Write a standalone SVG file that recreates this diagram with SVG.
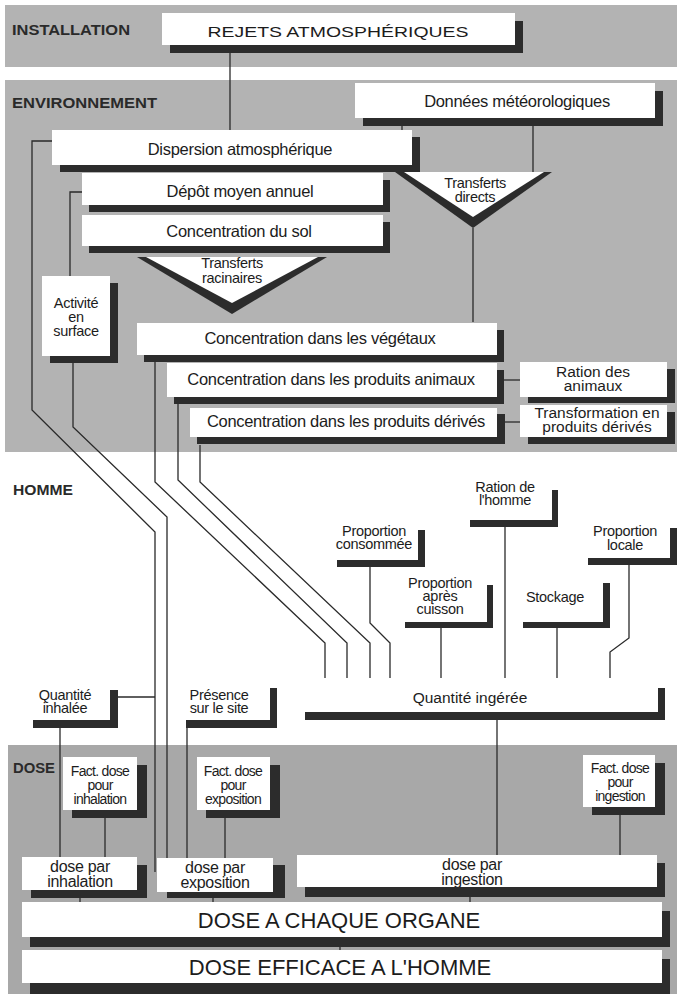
<svg xmlns="http://www.w3.org/2000/svg" width="677" height="994" viewBox="0 0 677 994">
<style>
.band{fill:#b3b3b3}
.bandd{fill:#a8a8a8}
.box{fill:#ffffff}
.sh{fill:#2c2c2c}
.ln{stroke:#2a2a2a;stroke-width:1.3;fill:none}
.t{font-family:"Liberation Sans",Arial,sans-serif;fill:#1c1c1c;text-anchor:middle;font-size:15.5px}
.s{font-size:14.5px;letter-spacing:-0.3px}
.f{font-size:14px;letter-spacing:-0.7px}
.d{font-size:16.5px;letter-spacing:-0.3px}
.dp{font-size:16px;letter-spacing:-0.3px}
.big{font-size:22px}
.sec{font-family:"Liberation Sans",Arial,sans-serif;font-weight:bold;fill:#2a2a2a;font-size:14.5px}
</style>
<rect x="0" y="0" width="677" height="994" fill="#ffffff"/>
<g id="bands">
<rect class="band" x="5" y="5" width="672" height="62"/>
<rect class="band" x="5" y="80" width="672" height="372"/>
<rect class="bandd" x="8" y="745" width="669" height="249"/>
<text class="sec" x="12" y="35" textLength="118" lengthAdjust="spacingAndGlyphs">INSTALLATION</text>
<text class="sec" x="12" y="108" textLength="145" lengthAdjust="spacingAndGlyphs">ENVIRONNEMENT</text>
<text class="sec" x="13" y="495" textLength="60" lengthAdjust="spacingAndGlyphs">HOMME</text>
<text class="sec" x="13" y="773" textLength="42" lengthAdjust="spacingAndGlyphs">DOSE</text>
</g>
<g id="connectors">
<path class="ln" d="M230 53V130"/>
<path class="ln" d="M402 126V130"/>
<path class="ln" d="M533 126V172"/>
<path class="ln" d="M473 228V322"/>
<path class="ln" d="M52 141H32V410L155 532V872"/>
<path class="ln" d="M82 192H70V276"/>
<path class="ln" d="M73 363V427L167 517V858"/>
<path class="ln" d="M155 362V482L325 643V678"/>
<path class="ln" d="M178 404V480L347 643V678"/>
<path class="ln" d="M200 445V482L370 643V678"/>
<path class="ln" d="M370 567V623L390 643V678"/>
<path class="ln" d="M441 628V678"/>
<path class="ln" d="M505 527V678"/>
<path class="ln" d="M557 628V678"/>
<path class="ln" d="M629 565V638L610 652V678"/>
<path class="ln" d="M504 380H520"/>
<path class="ln" d="M505 422H520"/>
<path class="ln" d="M118 697H155"/>
<path class="ln" d="M60 728V857"/>
<path class="ln" d="M187 728V858"/>
<path class="ln" d="M497 720V855"/>
<path class="ln" d="M105 818V857"/>
<path class="ln" d="M225 818V858"/>
<path class="ln" d="M620 815V855"/>
<path class="ln" d="M80 898V902M213 898V902M470 897V902M340 947V950"/>
</g>
<g id="rejets">
<rect class="sh" x="170" y="21" width="353" height="32"/>
<rect class="box" x="162" y="13" width="353" height="32"/>
<text class="t" x="338" y="37" font-size="21" textLength="261" lengthAdjust="spacingAndGlyphs">REJETS ATMOSPHÉRIQUES</text>
</g>
<g id="donnees">
<rect class="sh" x="363" y="91" width="300" height="35"/>
<rect class="box" x="355" y="83" width="300" height="35"/>
<text class="t d" x="517" y="107">Données météorologiques</text>
</g>
<g id="dispersion">
<rect class="sh" x="60" y="137" width="360" height="35"/>
<rect class="box" x="52" y="130" width="360" height="35"/>
<text class="t d" x="240" y="155">Dispersion atmosphérique</text>
</g>
<g id="depot">
<rect class="sh" x="89" y="180" width="301" height="32"/>
<rect class="box" x="82" y="173" width="301" height="32"/>
<text class="t d" x="240" y="197">Dépôt moyen annuel</text>
</g>
<g id="sol">
<rect class="sh" x="89" y="222" width="301" height="31"/>
<rect class="box" x="82" y="215" width="301" height="31"/>
<text class="t d" x="239" y="237">Concentration du sol</text>
</g>
<g id="transferts-directs">
<polygon class="sh" points="395,172 552,172 473,228"/>
<polygon class="box" points="404,172 544,172 473,217"/>
<text class="t s" x="475" y="188">Transferts</text>
<text class="t s" x="475" y="202">directs</text>
</g>
<g id="transferts-racinaires">
<polygon class="sh" points="137,257 327,257 232,314"/>
<polygon class="box" points="146,257 318,257 232,303"/>
<text class="t s" x="232" y="268">Transferts</text>
<text class="t s" x="232" y="283">racinaires</text>
</g>
<g id="activite">
<rect class="sh" x="50" y="283" width="68" height="80"/>
<rect class="box" x="42" y="276" width="68" height="80"/>
<text class="t s" x="76" y="308">Activité</text>
<text class="t s" x="76" y="322">en</text>
<text class="t s" x="76" y="336">surface</text>
</g>
<g id="vegetaux">
<rect class="sh" x="144" y="330" width="360" height="32"/>
<rect class="box" x="137" y="323" width="360" height="32"/>
<text class="t d" x="320" y="344">Concentration dans les végétaux</text>
</g>
<g id="animaux">
<rect class="sh" x="174" y="370" width="330" height="34"/>
<rect class="box" x="167" y="363" width="330" height="34"/>
<text class="t d" x="331" y="385">Concentration dans les produits animaux</text>
</g>
<g id="derives">
<rect class="sh" x="197" y="414" width="308" height="30"/>
<rect class="box" x="190" y="408" width="307" height="29"/>
<text class="t d" x="346" y="427">Concentration dans les produits dérivés</text>
</g>
<g id="ration-animaux">
<rect class="sh" x="528" y="369" width="147" height="34"/>
<rect class="box" x="520" y="362" width="147" height="35"/>
<text class="t" x="593" y="377">Ration des</text>
<text class="t" x="593" y="391">animaux</text>
</g>
<g id="transformation">
<rect class="sh" x="528" y="412" width="147" height="32"/>
<rect class="box" x="520" y="405" width="147" height="32"/>
<text class="t" x="597" y="418">Transformation en</text>
<text class="t" x="597" y="432">produits dérivés</text>
</g>
<g id="ration-homme">
<rect class="sh" x="470" y="490" width="88" height="37"/>
<rect class="box" x="463" y="482" width="89" height="38"/>
<text class="t s" x="505" y="492">Ration de</text>
<text class="t s" x="505" y="505">l'homme</text>
</g>
<g id="proportion-consommee">
<rect class="sh" x="337" y="530" width="88" height="37"/>
<rect class="box" x="330" y="522" width="88" height="38"/>
<text class="t s" x="374" y="536">Proportion</text>
<text class="t s" x="374" y="549">consommée</text>
</g>
<g id="proportion-cuisson">
<rect class="sh" x="405" y="585" width="88" height="43"/>
<rect class="box" x="398" y="577" width="89" height="45"/>
<text class="t s" x="440" y="588">Proportion</text>
<text class="t s" x="440" y="601">après</text>
<text class="t s" x="440" y="614">cuisson</text>
</g>
<g id="stockage">
<rect class="sh" x="523" y="583" width="87" height="45"/>
<rect class="box" x="516" y="575" width="87" height="47"/>
<text class="t s" x="555" y="602">Stockage</text>
</g>
<g id="proportion-locale">
<rect class="sh" x="588" y="528" width="89" height="37"/>
<rect class="box" x="581" y="520" width="89" height="38"/>
<text class="t s" x="625" y="536">Proportion</text>
<text class="t s" x="625" y="550">locale</text>
</g>
<g id="quantite-inhalee">
<rect class="sh" x="33" y="690" width="85" height="38"/>
<rect class="box" x="25" y="683" width="85" height="37"/>
<text class="t s" x="65" y="700">Quantité</text>
<text class="t s" x="65" y="713">inhalée</text>
</g>
<g id="presence">
<rect class="sh" x="186" y="688" width="91" height="40"/>
<rect class="box" x="178" y="681" width="92" height="39"/>
<text class="t s" x="219" y="700">Présence</text>
<text class="t s" x="219" y="713">sur le site</text>
</g>
<g id="quantite-ingeree">
<rect class="sh" x="305" y="688" width="360" height="32"/>
<rect class="box" x="297" y="680" width="361" height="32"/>
<text class="t" x="470" y="703">Quantité ingérée</text>
</g>
<g id="fact-inhalation">
<rect class="sh" x="72" y="765" width="75" height="53"/>
<rect class="box" x="63" y="757" width="74" height="53"/>
<text class="t f" x="100" y="776">Fact. dose</text>
<text class="t f" x="100" y="790">pour</text>
<text class="t f" x="100" y="804">inhalation</text>
</g>
<g id="fact-exposition">
<rect class="sh" x="206" y="765" width="74" height="53"/>
<rect class="box" x="197" y="757" width="73" height="53"/>
<text class="t f" x="233" y="776">Fact. dose</text>
<text class="t f" x="233" y="790">pour</text>
<text class="t f" x="233" y="804">exposition</text>
</g>
<g id="fact-ingestion">
<rect class="sh" x="592" y="763" width="73" height="52"/>
<rect class="box" x="583" y="755" width="72" height="52"/>
<text class="t f" x="620" y="773">Fact. dose</text>
<text class="t f" x="620" y="787">pour</text>
<text class="t f" x="620" y="801">ingestion</text>
</g>
<g id="dose-inhalation">
<rect class="sh" x="31" y="865" width="116" height="33"/>
<rect class="box" x="22" y="857" width="115" height="33"/>
<text class="t dp" x="80" y="872">dose par</text>
<text class="t dp" x="80" y="887">inhalation</text>
</g>
<g id="dose-exposition">
<rect class="sh" x="167" y="865" width="118" height="33"/>
<rect class="box" x="157" y="858" width="116" height="34"/>
<text class="t dp" x="215" y="873">dose par</text>
<text class="t dp" x="215" y="888">exposition</text>
</g>
<g id="dose-ingestion">
<rect class="box" x="297" y="855" width="360" height="32"/>
<text class="t dp" x="472" y="870">dose par</text>
<text class="t dp" x="472" y="885">ingestion</text>
<path class="sh" d="M305 887H657V863H665V897H305Z"/>
</g>
<g id="dose-organe">
<rect class="sh" x="30" y="911" width="640" height="36"/>
<rect class="box" x="22" y="902" width="640" height="35"/>
<text class="t big" x="339" y="928">DOSE A CHAQUE ORGANE</text>
</g>
<g id="dose-efficace">
<rect class="sh" x="30" y="959" width="640" height="35"/>
<rect class="box" x="22" y="950" width="640" height="33"/>
<text class="t big" x="340" y="975">DOSE EFFICACE A L'HOMME</text>
</g>
</svg>
